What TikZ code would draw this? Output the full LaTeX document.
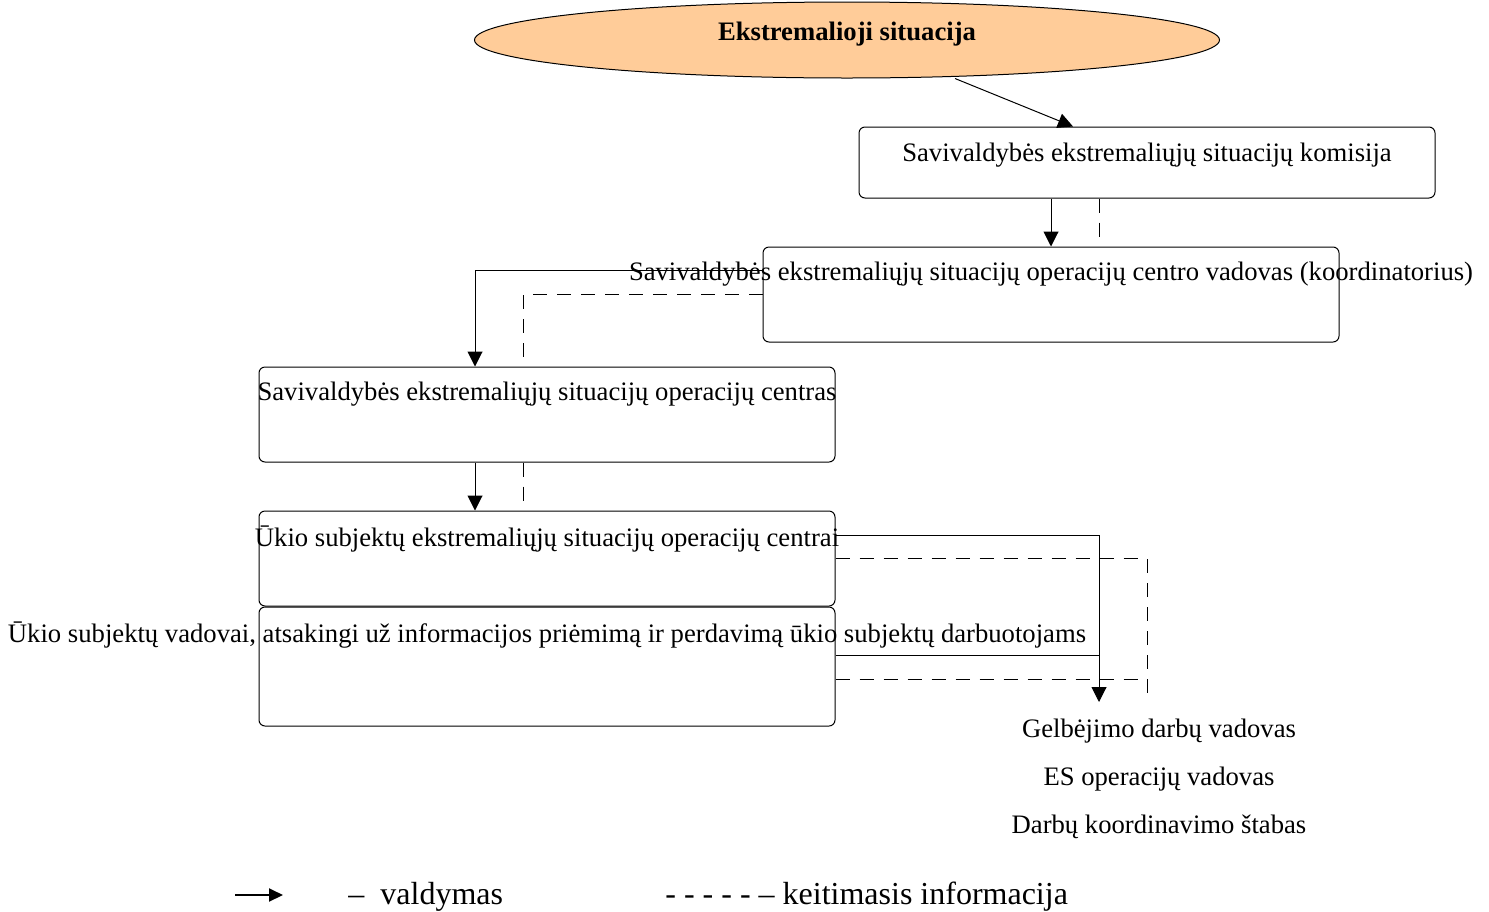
\documentclass[tikz,border=0pt]{standalone}
\usepackage{fontspec}
\setmainfont{Liberation Serif}
\usetikzlibrary{arrows.meta, shapes.geometric}

\begin{document}
\begin{tikzpicture}[x=0.5pt, y=-0.5pt, font=\fontsize{13.33}{16}\selectfont]

  % Define styles
  \tikzstyle{box} = [rectangle, draw, rounded corners=3pt, minimum width=288pt, inner sep=0pt, line width=0.5pt]
  \tikzstyle{txt} = [inner sep=0pt, align=center]
  \tikzstyle{ctrl} = [draw, line width=0.5pt, -{Triangle[length=7.5pt, width=7.5pt]}]
  \tikzstyle{plain} = [draw, line width=0.5pt]
  \tikzstyle{info} = [draw, line width=0.5pt, dash pattern=on 7pt off 5pt]

  \useasboundingbox (0,0) rectangle (1489,911);

  % Emergency
  \node[ellipse, draw, fill={rgb,255:red,255;green,204;blue,153}, minimum width=372.5pt, minimum height=38pt, inner sep=0pt, line width=0.5pt] (es) at (847,40) {};
  \node[txt, font=\fontsize{13.33}{16}\selectfont\bfseries] (est) at (847,34) {Ekstremalioji situacija};

  % Boxes
  \node[box, minimum height=35.5pt] (b1) at (1147,162.5) {};
  \node[box, minimum height=47.5pt] (b2) at (1051,294.5) {};
  \node[box, minimum height=47.5pt] (b3) at (547,414.5) {};
  \node[box, minimum height=47.5pt] (b4) at (547,558.5) {};
  \node[box, minimum height=59.5pt] (b5) at (547,666.5) {};

  % Box texts
  \node[txt] (t1) at (1147,155) {Savivaldybės ekstremaliųjų situacijų komisija};
  \node[txt] (t2) at (1051,274) {Savivaldybės ekstremaliųjų situacijų operacijų centro vadovas (koordinatorius)};
  \node[txt] (t3) at (547,394) {Savivaldybės ekstremaliųjų situacijų operacijų centras};
  \node[txt] (t4) at (547,539) {Ūkio subjektų ekstremaliųjų situacijų operacijų centrai};
  \node[txt] (t5) at (547,635) {Ūkio subjektų vadovai, atsakingi už informacijos priėmimą ir perdavimą ūkio subjektų darbuotojams};

  % Rescue side
  \node[txt] (r1) at (1159,731) {Gelbėjimo darbų vadovas};
  \node[txt] (r2) at (1159,779) {ES operacijų vadovas};
  \node[txt] (r3) at (1159,827) {Darbų koordinavimo štabas};
  \coordinate (tip) at (1099,702);
  \coordinate (dend) at (1147,698);

  % Connections
  \draw[ctrl] ([xshift=54pt]es.south) -- ([xshift=-37pt]b1.north);
  \draw[ctrl] (b1.south -| b2.north) -- (b2.north);
  \draw[info] ([xshift=-24pt]b1.south) -- ++(0,40);

  \draw[ctrl] ([yshift=12.25pt]b2.west) -| ([xshift=-36pt]b3.north);
  \draw[info] (b2.west) -| ([xshift=-12pt, yshift=3.5pt]b3.north);

  \draw[ctrl] ([xshift=-36pt]b3.south) -- ([xshift=-36pt]b4.north);
  \draw[info] ([xshift=-12pt]b3.south) -- ++(0,40);

  \draw[ctrl] ([yshift=11.75pt]b4.east) -| (tip);
  \draw[info] (b4.east) -| (dend);
  \draw[plain] ([yshift=5.75pt]b5.east) -- ([yshift=5.75pt]b5.east -| tip);
  \draw[info] ([yshift=-6.25pt]b5.east) -- ([yshift=-6.25pt]b5.east -| dend);

  % Legend
  \coordinate (l1) at (235,895);
  \coordinate (l2) at (283,895);
  \draw[line width=1pt, -{Triangle[length=7pt, width=6.5pt]}] (l1) -- (l2);
  \node[txt, anchor=west, font=\fontsize{16}{19}\selectfont] (lv) at (348,897) {–~~valdymas};
  \node[txt, anchor=west, font=\fontsize{16}{19}\selectfont] (lk) at (665,897) {- - - - - – keitimasis informacija};

\end{tikzpicture}
\end{document}
